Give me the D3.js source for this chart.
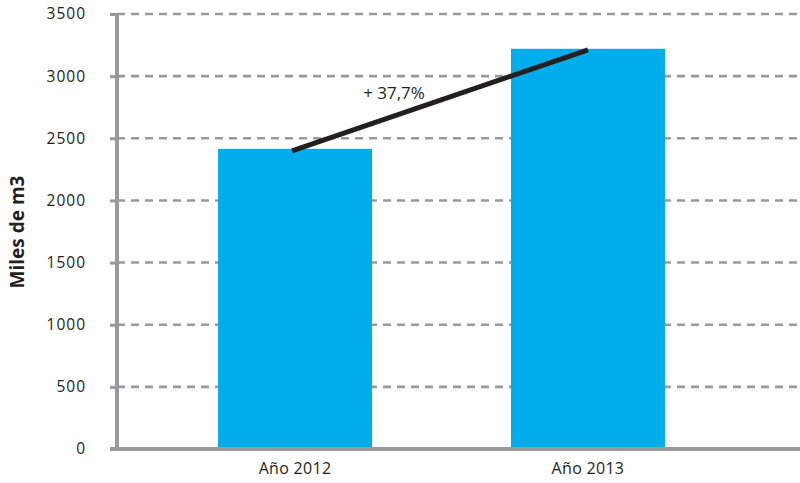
<!DOCTYPE html>
<html><head><meta charset="utf-8">
<script src="https://cdn.jsdelivr.net/npm/d3@7"></script>
<style>
html,body{margin:0;padding:0;background:#fff;}
svg text{font-family:"Open Sans",Lato,sans-serif;fill:#231f20;}
</style></head>
<body><svg id="c" width="800" height="483"></svg>
<script>
const categories = ["Año 2012", "Año 2013"];
const values = [2415, 3220];
const yTicks = [0, 500, 1000, 1500, 2000, 2500, 3000, 3500];
const yLabel = "Miles de m3";
const growthLabel = "+ 37,7%";

const svg = d3.select("#c");
const x0 = 117, x1 = 800, yTop = 14, yBot = 449;
const y = d3.scaleLinear().domain([0, 3500]).range([yBot, yTop]);
const x = d3.scaleBand().domain(categories).range([x0, x1])
  .paddingInner(0.4744).paddingOuter(0.403).align(0.428);

const grid = "#999a9c";
// gridlines
svg.append("g").selectAll("line").data(yTicks.filter(d => d > 0)).join("line")
  .attr("x1", x0).attr("x2", x1).attr("y1", d => y(d)).attr("y2", d => y(d))
  .attr("stroke", grid).attr("stroke-width", 2.6).attr("stroke-dasharray", "8,6");

// bars
svg.append("g").selectAll("rect").data(values).join("rect")
  .attr("x", (d, i) => x(categories[i])).attr("width", x.bandwidth())
  .attr("y", d => y(d)).attr("height", d => yBot - y(d))
  .attr("fill", "#00adeb");

// y axis
const yAxis = d3.axisLeft(y).tickValues(yTicks).tickSize(7).tickPadding(24).tickFormat(d3.format("d"));
const gy = svg.append("g").attr("transform", `translate(${x0},0)`).call(yAxis);
gy.select(".domain").attr("stroke", grid).attr("stroke-width", 4).attr("d", `M0,${yTop}V${yBot}`);
gy.selectAll(".tick line").attr("stroke", grid).attr("stroke-width", 3);
gy.selectAll(".tick text").attr("font-size", 15.5).attr("letter-spacing", 1)
  .style("font-family", "'Open Sans', sans-serif").style("fill", "#231f20");

// x axis
const xAxis = d3.axisBottom(x).tickSize(0).tickPadding(14);
const gx = svg.append("g").attr("transform", `translate(0,${yBot})`).call(xAxis);
gx.select(".domain").attr("stroke", grid).attr("stroke-width", 4).attr("d", `M110,0H${x1}`);
gx.selectAll(".tick text").attr("font-size", 16).attr("letter-spacing", 0.3)
  .style("font-family", "'Open Sans', sans-serif").style("fill", "#231f20");

// growth line
const c1 = x(categories[0]) + x.bandwidth() / 2 - 3;
const c2 = x(categories[1]) + x.bandwidth() / 2;
svg.append("line")
  .attr("x1", c1).attr("y1", y(values[0]) + 2)
  .attr("x2", c2).attr("y2", y(values[1]) + 1)
  .attr("stroke", "#231f20").attr("stroke-width", 5);
svg.append("text").attr("x", 394).attr("y", 99).attr("text-anchor", "middle")
  .attr("font-size", 17).text(growthLabel);

// y label
svg.append("text").attr("transform", `translate(24,232) rotate(-90)`)
  .attr("text-anchor", "middle").attr("font-size", 19).attr("font-weight", "bold")
  .text(yLabel);
</script></body></html>
